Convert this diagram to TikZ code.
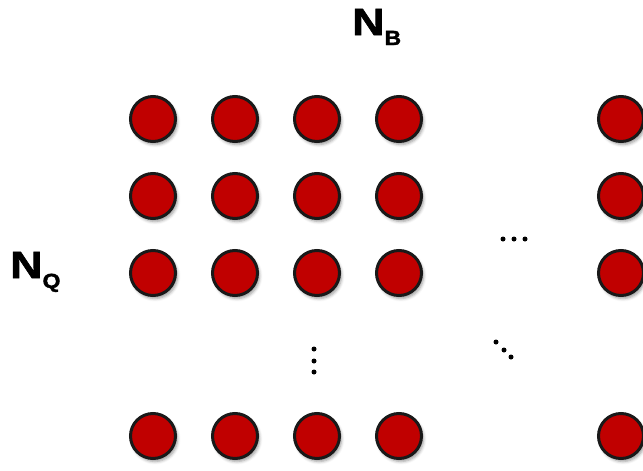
\documentclass[tikz,border=0pt]{standalone}
\usepackage{fontspec}
\setmainfont{Liberation Sans}
\newfontfamily\heavyfont[FakeBold=1.6]{Liberation Sans Bold}
\usepackage{xcolor}
\usetikzlibrary{shadows.blur}
\definecolor{ballred}{RGB}{192,0,0}

\tikzset{
  ball/.style={circle, draw=black!90, line width=3pt, fill=ballred, minimum size=45pt, inner sep=0pt,
    blur shadow={shadow xshift=2pt, shadow yshift=-3pt, shadow blur radius=3pt, shadow opacity=40}},
  tinydot/.style={circle, fill=black, minimum size=5pt, inner sep=0pt},
  axislabel/.style={inner sep=0pt, anchor=base west, font=\heavyfont}
}

\newcommand{\biglabel}[2]{\scalebox{1.18}[1]{\fontsize{38}{38}\selectfont #1}\raisebox{-10pt}{\scalebox{1.12}[1]{\fontsize{20.5}{20.5}\selectfont #2}}}

\begin{document}
\begin{tikzpicture}[x=1pt, y=-1pt]
\useasboundingbox (0,0) rectangle (643,471);

% grid of balls
\foreach \r/\y in {1/119, 2/196, 3/273, 4/436} {
  \foreach \c/\x in {1/153, 2/235, 3/317, 4/399, 5/621}
    \node[ball] (b\r\c) at (\x,\y) {};
}

% ellipsis dots
\foreach \i/\x in {1/503, 2/514, 3/525}
  \node[tinydot] (h\i) at (\x,239) {};
\foreach \i/\y in {1/349, 2/361, 3/372}
  \node[tinydot] (v\i) at (314,\y) {};
\foreach \i/\x/\y in {1/496/342, 2/504/350, 3/511/357}
  \node[tinydot] (d\i) at (\x,\y) {};

% labels
\node[axislabel] (nb) at (352,35) {\biglabel{N}{B}};
\node[axislabel] (nq) at (10,278) {\biglabel{N}{Q}};
\end{tikzpicture}
\end{document}
